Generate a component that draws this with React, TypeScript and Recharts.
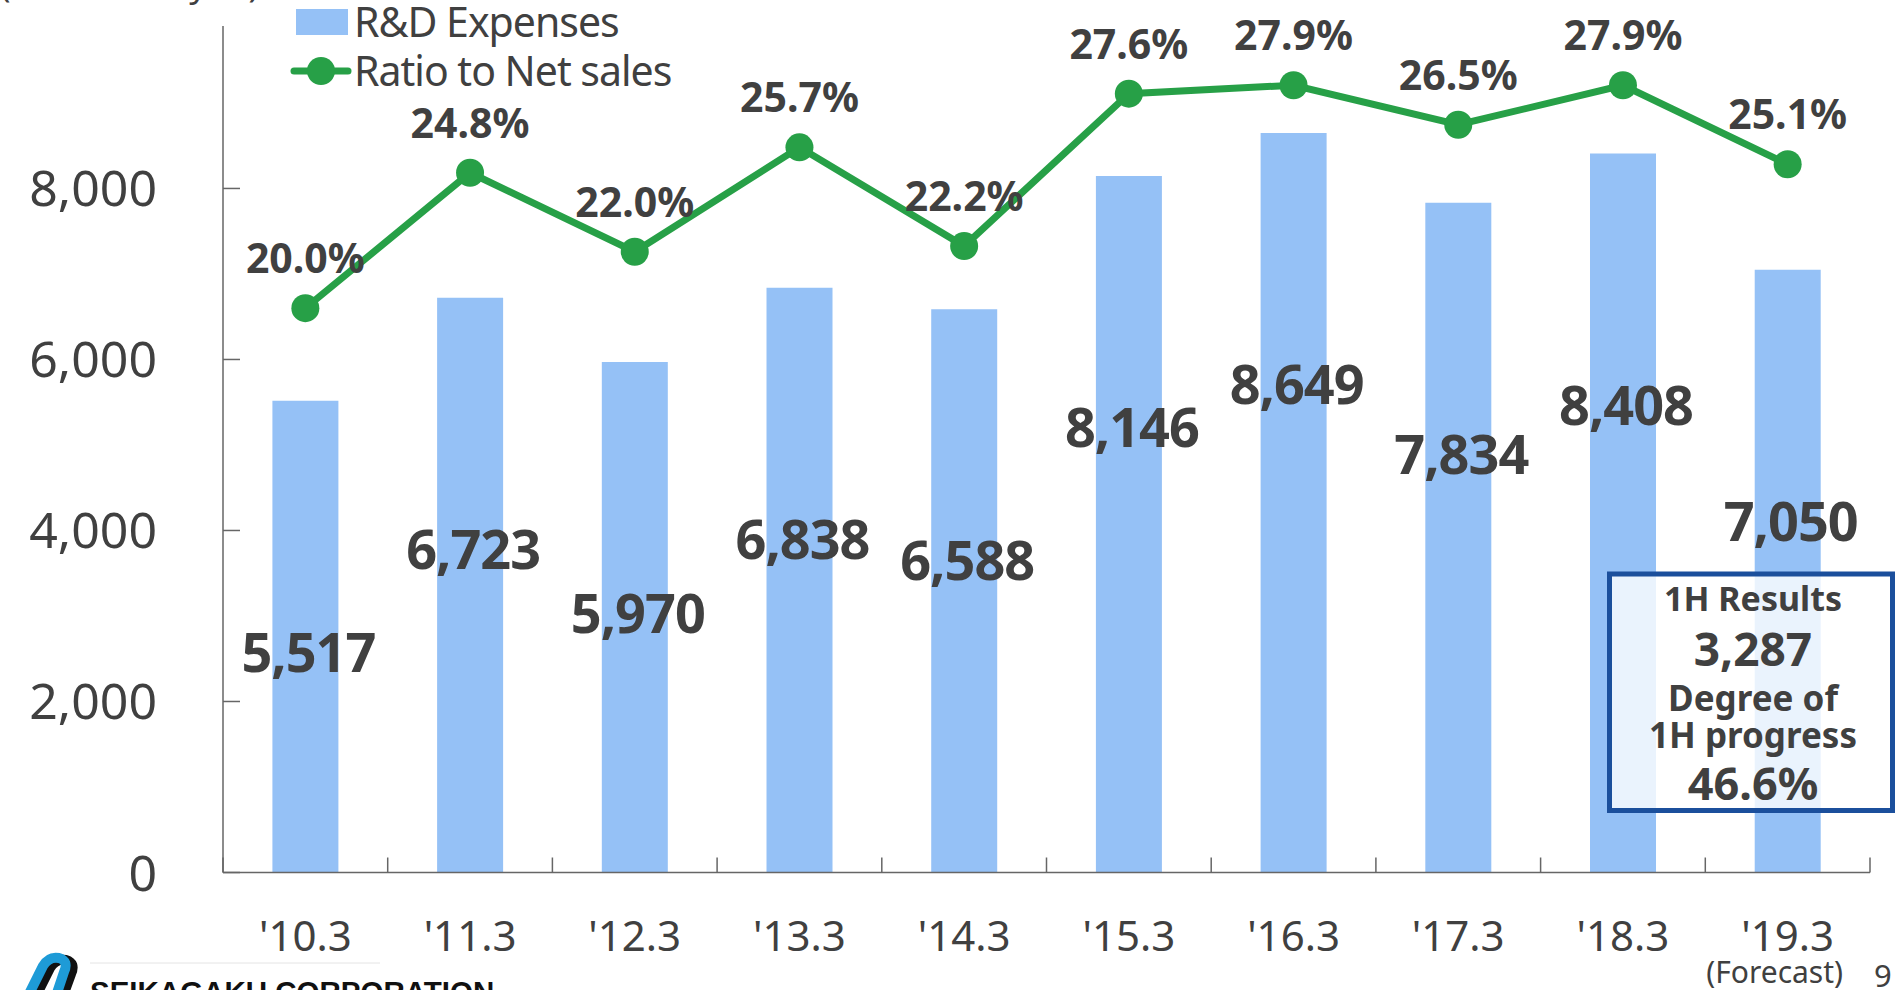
import { ComposedChart, Bar, Line, XAxis, YAxis, LabelList } from "recharts";

const categories = ["'10.3", "'11.3", "'12.3", "'13.3", "'14.3", "'15.3", "'16.3", "'17.3", "'18.3", "'19.3"];
const rdExpenses = [5517, 6723, 5970, 6838, 6588, 8146, 8649, 7834, 8408, 7050];
const ratioToSales = [20.0, 24.8, 22.0, 25.7, 22.2, 27.6, 27.9, 26.5, 27.9, 25.1];
const yTicks = [0, 2000, 4000, 6000, 8000];
const halfResults = ["1H Results", "3,287", "Degree of", "1H progress", "46.6%"];

const data = categories.map((cat, i) => ({ cat, rd: rdExpenses[i], ratio: ratioToSales[i] }));

const W = 1895;
const H = 990;
const BAR = "#95C1F6";
const GREEN = "#27A047";
const TXT = "#404040";
const AXIS = "#666666";
const FONT = "'Noto Sans', sans-serif";

const YTick = (props: any) => {
  const { x, y, payload } = props;
  return (
    <g>
      <line x1={x} x2={x + 17} y1={y} y2={y} stroke={AXIS} strokeWidth={1.5} />
      <text x={x - 66} y={y + 18} textAnchor="end" fontSize={50} fill={TXT} fontFamily={FONT}>
        {Number(payload.value).toLocaleString("en-US")}
      </text>
    </g>
  );
};

const XTick = (props: any) => {
  const { x, y, payload, index } = props;
  const half = payload.offset || 82.35;
  return (
    <g>
      <line x1={x + half} x2={x + half} y1={y} y2={y - 15} stroke={AXIS} strokeWidth={1.5} />
      {index === 0 && <line x1={x - half} x2={x - half} y1={y} y2={y - 15} stroke={AXIS} strokeWidth={1.5} />}
      <text x={x} y={y + 78} textAnchor="middle" fontSize={42} fill={TXT} fontFamily={FONT}>
        {payload.value}
      </text>
      {index === categories.length - 1 && (
        <text x={x - 13} y={y + 110} textAnchor="middle" fontSize={30} fill={TXT} fontFamily={FONT}>
          (Forecast)
        </text>
      )}
    </g>
  );
};

const BarValue = (props: any) => {
  const { x, y, width, value } = props;
  return (
    <text x={x + width / 2 + 3} y={y + 271} textAnchor="middle" fontSize={54} fontWeight="bold"
      letterSpacing={-1} fill={TXT} fontFamily={FONT}>
      {Number(value).toLocaleString("en-US")}
    </text>
  );
};

const RatioValue = (props: any) => {
  const { x, y, value } = props;
  return (
    <text x={x} y={y - 35} textAnchor="middle" fontSize={41} fontWeight="bold" fill={TXT} fontFamily={FONT}>
      {Number(value).toFixed(1)}%
    </text>
  );
};

export default function App() {
  return (
    <div style={{ position: "absolute", left: 0, top: 0, width: W, height: H, background: "#fff", fontFamily: FONT, overflow: "hidden" }}>
      <ComposedChart width={W} height={H} data={data} margin={{ top: 26, right: 25, bottom: 0, left: 0 }} barCategoryGap="30%">
        <XAxis dataKey="cat" height={117.5} tickSize={0} tickMargin={0} tickLine={false}
          axisLine={{ stroke: AXIS, strokeWidth: 1.5 }} tick={<XTick />} interval={0} />
        <YAxis yAxisId="left" width={223} domain={[0, 9900]} ticks={yTicks} tickSize={0} tickMargin={0}
          tickLine={false} axisLine={{ stroke: AXIS, strokeWidth: 1.5 }} tick={<YTick />} interval={0} />
        <YAxis yAxisId="right" orientation="right" domain={[0, 30]} hide />
        <Bar yAxisId="left" dataKey="rd" fill={BAR} isAnimationActive={false}>
          <LabelList dataKey="rd" content={<BarValue />} />
        </Bar>
        <Line yAxisId="right" dataKey="ratio" stroke={GREEN} strokeWidth={7} dot={{ r: 14, fill: GREEN, stroke: GREEN, strokeWidth: 0 }}
          isAnimationActive={false}>
          <LabelList dataKey="ratio" content={<RatioValue />} />
        </Line>
      </ComposedChart>

      <svg width={W} height={H} style={{ position: "absolute", left: 0, top: 0, pointerEvents: "none" }}>
        <text x={0} y={-3} fontSize={35} fill={TXT} fontFamily={FONT}>(Millions of yen)</text>

        {/* legend */}
        <rect x={296} y={9} width={52} height={26} fill={BAR} />
        <text x={354} y={37} fontSize={41} fill={TXT} fontFamily={FONT} letterSpacing={-1}>R&amp;D Expenses</text>
        <line x1={294} x2={348} y1={71} y2={71} stroke={GREEN} strokeWidth={7} strokeLinecap="round" />
        <circle cx={321} cy={71} r={14} fill={GREEN} />
        <text x={354} y={86} fontSize={41} fill={TXT} fontFamily={FONT} letterSpacing={-1}>Ratio to Net sales</text>

        {/* 1H results box */}
        <rect x={1609.5} y={574} width={283} height={236.5} fill="#fff" fillOpacity={0.8} stroke="#1B4F9C" strokeWidth={5} />
        <text x={1753} y={611} textAnchor="middle" fontSize={34} fontWeight="bold" fill={TXT} fontFamily={FONT}>{halfResults[0]}</text>
        <text x={1753} y={666} textAnchor="middle" fontSize={46} fontWeight="bold" fill={TXT} fontFamily={FONT}>{halfResults[1]}</text>
        <text x={1753} y={711} textAnchor="middle" fontSize={35} fontWeight="bold" fill={TXT} fontFamily={FONT}>{halfResults[2]}</text>
        <text x={1753} y={748} textAnchor="middle" fontSize={35} fontWeight="bold" fill={TXT} fontFamily={FONT}>{halfResults[3]}</text>
        <text x={1753} y={800} textAnchor="middle" fontSize={45} fontWeight="bold" fill={TXT} fontFamily={FONT}>{halfResults[4]}</text>

        {/* footer */}
        <path d="M 36 996 L 50 968 Q 56 958 66 960 Q 76 963 71 974 L 63 996" fill="none" stroke="#111" strokeWidth={10} />
        <path d="M 28 996 L 43 966 Q 49 956 59 958 Q 69 961 64 972 L 56 996" fill="none" stroke="#1E9BD7" strokeWidth={10} />
        <line x1={90} x2={380} y1={963} y2={963} stroke="#e4e4e4" strokeWidth={1} />
        <text x={90} y={1002} fontSize={29.5} fontWeight="bold" fill="#111" fontFamily="'Liberation Sans', Arial, sans-serif">SEIKAGAKU CORPORATION</text>
        <text x={1874} y={987} fontSize={31} fill={TXT} fontFamily={FONT}>9</text>
      </svg>
    </div>
  );
}
